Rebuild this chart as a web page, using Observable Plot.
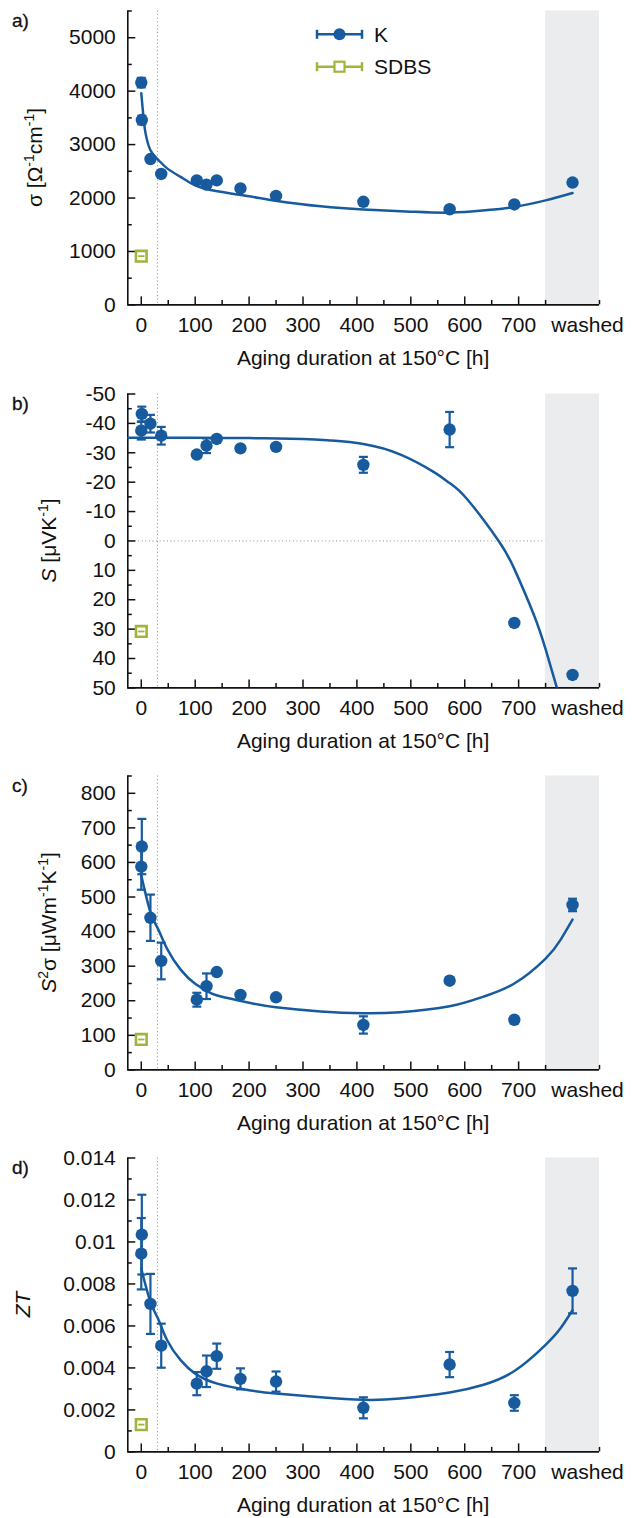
<!DOCTYPE html>
<html><head><meta charset="utf-8">
<script src="https://cdn.jsdelivr.net/npm/d3@7"></script>
<script src="https://cdn.jsdelivr.net/npm/@observablehq/plot@0.6"></script>
<style>
body{margin:0;background:#fff;}
#root{position:relative;width:634px;height:1518px;overflow:hidden;font-family:"Liberation Sans",Arial,sans-serif;}
.panel{position:absolute;left:0;}
</style></head><body><div id="root"></div>
<script>
// ---------- data ----------
const hours = [0, 1, 17, 37, 103, 121, 140, 184, 250, 412, 572, 692, 800]; // 800 = "washed"
const xTickValues = [0, 100, 200, 300, 400, 500, 600, 700];
const xTickLabels = ["0", "100", "200", "300", "400", "500", "600", "700"];
const washedTick = [800];
const washedLabel = ["washed"];
const xMinorTicks = [50, 150, 250, 350, 450, 550, 650, 750, 850];
const washedBand = [750, 850];
const agingStart = [30];
const sdbsHours = [0];

const sigmaK    = [4160, 3460, 2730, 2450, 2330, 2250, 2330, 2180, 2040, 1930, 1790, 1880, 2290];
const sigmaErr  = [90, 80, 30, 30, 30, 30, 30, 20, 20, 20, 20, 20, 20];
const sigmaSDBS = [912];
const fitA_h = [0, 4, 8, 17, 31, 48, 73, 100, 141, 200, 252, 333, 412, 500, 572, 640, 692, 750, 800];
const fitA_v = [3960, 3520, 3210, 2895, 2720, 2555, 2395, 2238, 2126, 2032, 1944, 1844, 1785, 1745, 1726, 1772, 1832, 1956, 2094];

const seebK    = [-37.5, -43.2, -39.9, -35.8, -29.4, -32.4, -34.7, -31.5, -32.0, -25.9, -37.9, 27.9, 45.6];
const seebErr  = [3, 2.5, 3, 3, 1, 2.5, 0.5, 0.5, 0.5, 2.7, 6, 0.5, 0.5];
const seebSDBS = [30.8];
const fitB_h = [-25, 100, 200, 300, 350, 412, 481, 543, 572, 605, 663, 692, 728, 750, 771];
const fitB_v = [-35.1, -35.1, -35.0, -34.7, -34.2, -33.0, -29.4, -23.4, -19.7, -14.1, 0, 9.5, 25.0, 36.8, 50];

const pfK    = [588, 646, 440, 315, 203, 242, 283, 217, 210, 130, 258, 145, 477];
const pfErr  = [67, 80, 67, 53, 20, 37, 5, 5, 8, 25, 8, 10, 18];
const pfSDBS = [88];
const fitC_h = [0, 17, 31, 48, 73, 100, 122, 141, 200, 250, 333, 412, 480, 572, 635, 692, 750, 778, 800];
const fitC_v = [562, 456, 408, 350, 290, 249, 228, 215, 194, 181, 169, 164, 167, 184, 212, 250, 322, 377, 435];

const ztK    = [0.00944, 0.01035, 0.00705, 0.00506, 0.00325, 0.00384, 0.00456, 0.00348, 0.00335, 0.0021, 0.00416, 0.00233, 0.00767];
const ztErr  = [0.0017, 0.0019, 0.00143, 0.00105, 0.00055, 0.00075, 0.0006, 0.0005, 0.00048, 0.0005, 0.0006, 0.00037, 0.00107];
const ztSDBS = [0.0013];
const fitD_h = [0, 17, 31, 48, 73, 100, 141, 200, 250, 333, 412, 480, 572, 635, 692, 750, 778, 800];
const fitD_v = [0.00873, 0.00714, 0.00635, 0.00532, 0.00437, 0.00373, 0.00325, 0.00294, 0.00278, 0.0026, 0.00248, 0.00254, 0.00283, 0.0032, 0.00385, 0.0051, 0.0059, 0.00675];

const yTicksA = [0, 1000, 2000, 3000, 4000, 5000];
const yMinorA = [500, 1500, 2500, 3500, 4500, 5500];
const yTicksB = [-50, -40, -30, -20, -10, 0, 10, 20, 30, 40, 50];
const yMinorB = [-45, -35, -25, -15, -5, 5, 15, 25, 35, 45];
const yTicksC = [0, 100, 200, 300, 400, 500, 600, 700, 800];
const yMinorC = [50, 150, 250, 350, 450, 550, 650, 750, 850];
const yTicksD = [0, 0.002, 0.004, 0.006, 0.008, 0.01, 0.012, 0.014];
const yTickLabelsD = ["0", "0.002", "0.004", "0.006", "0.008", "0.01", "0.012", "0.014"];
const yMinorD = [0.001, 0.003, 0.005, 0.007, 0.009, 0.011, 0.013];

const seriesNames = ["K", "SDBS"];

// ---------- style ----------
const BLUE = "#175b9e", OLIVE = "#a3b43c", INK = "#111";
const FONT = "'Liberation Sans', Arial, sans-serif";
const FS = 21;
const W = 634, H = 382, mL = 127.3, mR = 35, mT = 10.5, mB = 77.6;
const plotW = W - mL - mR, plotH = H - mT - mB;
const capSymbol = {draw(ctx, size) { const r = Math.sqrt(size / Math.PI); ctx.moveTo(-r, 0); ctx.lineTo(r, 0); }};

function makePanel(cfg) {
  const rows = hours.map((h, i) => ({h, v: cfg.values[i], e: cfg.errors[i]}));
  const fit = cfg.fitX.map((x, i) => ({x, y: cfg.fitY[i]}));
  const [y0, y1] = cfg.yDomain;
  const yBottom = cfg.reverse ? y1 : y0;
  const marks = [
    Plot.rect([washedBand], {x1: d => d[0], x2: d => d[1], y1: y0, y2: y1, fill: "#ebecee"}),
    Plot.ruleX(agingStart, {stroke: "#8a8a8a", strokeWidth: 1, strokeDasharray: "1,2.6"}),
  ];
  if (cfg.zeroLine) marks.push(Plot.ruleY([0], {x1: -25, x2: washedBand[0], stroke: "#8a8a8a", strokeWidth: 1, strokeDasharray: "1,2.6"}));
  marks.push(
    Plot.tickX(xTickValues, {x: d => d, insetTop: plotH - 8, stroke: INK, strokeWidth: 1.5}),
    Plot.tickX(xMinorTicks, {x: d => d, insetTop: plotH - 4.5, stroke: INK, strokeWidth: 1.5}),
    Plot.tickY(cfg.yTicks, {y: d => d, insetRight: plotW - 8, stroke: INK, strokeWidth: 1.5}),
    Plot.tickY(cfg.yMinor, {y: d => d, insetRight: plotW - 4.5, stroke: INK, strokeWidth: 1.5}),
    Plot.ruleX([-25], {stroke: INK, strokeWidth: 1.6}),
    Plot.ruleY([yBottom], {stroke: INK, strokeWidth: 1.6}),
    Plot.axisX(xTickValues, {tickSize: 0, tickPadding: 12, fontSize: FS, label: null,
      tickFormat: d => xTickLabels[xTickValues.indexOf(d)]}),
    Plot.axisX(washedTick, {tickSize: 0, tickPadding: 12, fontSize: FS, label: null, dx: 15,
      tickFormat: d => washedLabel[washedTick.indexOf(d)]}),
    Plot.axisY(cfg.yTicks, {tickSize: 0, tickPadding: 12, fontSize: FS, label: null,
      tickFormat: d => cfg.yLabels[cfg.yTicks.indexOf(d)]}),
    Plot.line(fit, {x: "x", y: "y", curve: "natural", stroke: BLUE, strokeWidth: 2.5, clip: true}),
    Plot.ruleX(rows, {x: "h", y1: d => d.v - d.e, y2: d => d.v + d.e, stroke: BLUE, strokeWidth: 2.2}),
    Plot.dot(rows, {x: "h", y: d => d.v + d.e, symbol: capSymbol, r: 4.5, stroke: BLUE, strokeWidth: 2.2, fill: "none"}),
    Plot.dot(rows, {x: "h", y: d => d.v - d.e, symbol: capSymbol, r: 4.5, stroke: BLUE, strokeWidth: 2.2, fill: "none"}),
    Plot.dot(rows, {x: "h", y: "v", r: 6.2, fill: BLUE}),
    Plot.dot(cfg.sdbs, {x: sdbsHours[0], y: d => d, symbol: "square", r: 6, stroke: OLIVE, strokeWidth: 2.6, fill: "#fff"}),
    Plot.dot(cfg.sdbs, {x: sdbsHours[0], y: d => d, symbol: capSymbol, r: 3.2, stroke: OLIVE, strokeWidth: 1.8, fill: "none"})
  );
  const svg = Plot.plot({
    width: W, height: H, marginLeft: mL, marginRight: mR, marginTop: mT, marginBottom: mB,
    x: {domain: [-25, 850]},
    y: {domain: cfg.yDomain, reverse: !!cfg.reverse},
    style: {fontFamily: FONT, fontSize: FS + "px", color: INK, background: "transparent", overflow: "visible"},
    marks
  });
  const s = d3.select(svg);
  // panel letter
  s.append("text").attr("x", 12).attr("y", 27).attr("text-anchor", "start").attr("font-size", 19)
    .attr("font-family", FONT).attr("fill", INK).attr("stroke", INK).attr("stroke-width", 0.3).text(cfg.letter);
  // x title
  s.append("text").attr("x", mL + plotW / 2).attr("y", 365).attr("text-anchor", "middle")
    .attr("font-size", FS).attr("font-family", FONT).attr("fill", INK).text("Aging duration at 150°C [h]");
  // y title with superscripts
  const t = s.append("text").attr("transform", `translate(${cfg.ylabelX},${mT + plotH / 2}) rotate(-90)`)
    .attr("text-anchor", "middle").attr("font-size", FS).attr("font-family", FONT).attr("fill", INK);
  let shifted = false;
  cfg.ylabel.forEach(p => {
    const sp = t.append("tspan").text(p.t);
    if (p.i) sp.attr("font-style", "italic");
    if (p.sup && !shifted) { sp.attr("dy", -8).attr("font-size", 14); shifted = true; }
    else if (p.sup) sp.attr("font-size", 14);
    else if (!p.sup && shifted) { sp.attr("dy", 8); shifted = false; }
  });
  return svg;
}

function addLegend(svg) {
  const s = d3.select(svg);
  const items = [{name: seriesNames[0], y: 34.3, color: BLUE, kind: "circle"},
                 {name: seriesNames[1], y: 66.7, color: OLIVE, kind: "square"}];
  items.forEach(it => {
    const g = s.append("g");
    g.append("line").attr("x1", 317).attr("x2", 362).attr("y1", it.y).attr("y2", it.y).attr("stroke", it.color).attr("stroke-width", 2.5);
    g.append("line").attr("x1", 317).attr("x2", 317).attr("y1", it.y - 4.5).attr("y2", it.y + 4.5).attr("stroke", it.color).attr("stroke-width", 2.5);
    g.append("line").attr("x1", 362).attr("x2", 362).attr("y1", it.y - 4.5).attr("y2", it.y + 4.5).attr("stroke", it.color).attr("stroke-width", 2.5);
    if (it.kind === "circle") g.append("circle").attr("cx", 339.5).attr("cy", it.y).attr("r", 6).attr("fill", it.color);
    else g.append("rect").attr("x", 334.5).attr("y", it.y - 5).attr("width", 10).attr("height", 10).attr("fill", "#fff").attr("stroke", it.color).attr("stroke-width", 2.2);
    g.append("text").attr("x", 374).attr("y", it.y + 7.5).attr("text-anchor", "start").attr("font-size", FS)
      .attr("font-family", FONT).attr("fill", INK).text(it.name);
  });
}

const panels = [
  {letter: "a)", yDomain: [0, 5500], yTicks: yTicksA, yMinor: yMinorA, yLabels: yTicksA.map(String),
   values: sigmaK, errors: sigmaErr, sdbs: sigmaSDBS, fitX: fitA_h, fitY: fitA_v, ylabelX: 42,
   ylabel: [{t: "σ [Ω"}, {t: "-1", sup: true}, {t: "cm"}, {t: "-1", sup: true}, {t: "]"}]},
  {letter: "b)", yDomain: [-50, 50], reverse: true, yTicks: yTicksB, yMinor: yMinorB, yLabels: yTicksB.map(String),
   values: seebK, errors: seebErr, sdbs: seebSDBS, fitX: fitB_h, fitY: fitB_v, ylabelX: 56, zeroLine: true,
   ylabel: [{t: "S", i: true}, {t: " [μVK"}, {t: "-1", sup: true}, {t: "]"}]},
  {letter: "c)", yDomain: [0, 850], yTicks: yTicksC, yMinor: yMinorC, yLabels: yTicksC.map(String),
   values: pfK, errors: pfErr, sdbs: pfSDBS, fitX: fitC_h, fitY: fitC_v, ylabelX: 56,
   ylabel: [{t: "S", i: true}, {t: "2", sup: true}, {t: "σ [μWm"}, {t: "-1", sup: true}, {t: "K"}, {t: "-1", sup: true}, {t: "]"}]},
  {letter: "d)", yDomain: [0, 0.014], yTicks: yTicksD, yMinor: yMinorD, yLabels: yTickLabelsD,
   values: ztK, errors: ztErr, sdbs: ztSDBS, fitX: fitD_h, fitY: fitD_v, ylabelX: 30,
   ylabel: [{t: "ZT", i: true}]}
];
const tops = [0, 383, 765, 1147];
const root = document.getElementById("root");
panels.forEach((cfg, i) => {
  const svg = makePanel(cfg);
  if (i === 0) addLegend(svg);
  const div = document.createElement("div");
  div.className = "panel";
  div.style.top = tops[i] + "px";
  div.appendChild(svg);
  root.appendChild(div);
});
</script></body></html>
